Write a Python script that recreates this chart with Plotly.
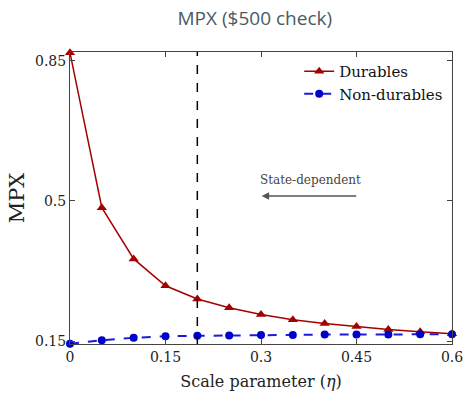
import plotly.graph_objects as go

eta = [0, 0.05, 0.1, 0.15, 0.2, 0.25, 0.3, 0.35, 0.4, 0.45, 0.5, 0.55, 0.6]
durables = [0.870, 0.483, 0.355, 0.288, 0.255, 0.233, 0.216, 0.203, 0.194, 0.186, 0.179, 0.173, 0.168]
nondurables = [0.143, 0.152, 0.158, 0.162, 0.163, 0.164, 0.165, 0.165, 0.166, 0.166, 0.166, 0.167, 0.167]
xticks = [0, 0.15, 0.3, 0.45, 0.6]
xticklabels = ["0", "0.15", "0.3", "0.45", "0.6"]
yticks = [0.15, 0.5, 0.85]
yticklabels = ["0.15", "0.5", "0.85"]
calib_eta = 0.2

serif = "DejaVu Serif"

fig = go.Figure()
fig.add_trace(go.Scatter(x=eta, y=durables, mode="lines+markers", name="Durables",
                         line=dict(color="#a50000", width=1.5),
                         marker=dict(symbol="triangle-up", size=9, color="#a50000"),
                         cliponaxis=False))
fig.add_trace(go.Scatter(x=eta, y=nondurables, mode="lines+markers", name="Non-durables",
                         line=dict(color="#1a1adc", width=2, dash="dash"),
                         marker=dict(symbol="circle", size=8, color="#0000cc"),
                         cliponaxis=False))

fig.add_shape(type="line", xref="x", yref="paper", x0=calib_eta, x1=calib_eta, y0=0, y1=1,
              line=dict(color="black", width=1.5, dash="dash"))

fig.add_annotation(x=0.377, y=0.551, xref="x", yref="y", text="State-dependent",
                   showarrow=False, font=dict(family=serif, size=12, color="#444444"))
fig.add_annotation(x=0.301, y=0.5125, ax=0.452, ay=0.5125, xref="x", yref="y", axref="x", ayref="y",
                   text="", showarrow=True, arrowhead=2, arrowsize=1, arrowwidth=1.5,
                   arrowcolor="#555555", standoff=0)

fig.update_layout(
    width=465, height=394,
    margin=dict(l=70, r=13, t=52, b=50, autoexpand=False),
    paper_bgcolor="white", plot_bgcolor="white",
    title=dict(text="MPX ($500 check)", x=0.548, xanchor="center", y=0.954, yanchor="middle",
               font=dict(family="Open Sans", size=19, color="#4a5a62")),
    font=dict(family=serif, size=14, color="#222222"),
    legend=dict(x=0.99, y=0.99, xanchor="right", yanchor="top", bgcolor="rgba(0,0,0,0)",
                font=dict(family=serif, size=15, color="#111111"), itemwidth=30,
                tracegroupgap=0),
    showlegend=True,
)
fig.update_xaxes(range=[0, 0.6], tickvals=xticks, ticktext=xticklabels, automargin=False,
                 ticks="inside", ticklen=5, mirror="ticks", showline=True, linecolor="#444444",
                 linewidth=1, showgrid=False, zeroline=False,
                 title=dict(text="Scale parameter (<i>η</i>)", standoff=12,
                            font=dict(family=serif, size=16)))
fig.update_yaxes(range=[0.1425, 0.872], tickvals=yticks, ticktext=yticklabels, automargin=False,
                 ticks="inside", ticklen=5, mirror="ticks", showline=True, linecolor="#444444",
                 linewidth=1, showgrid=False, zeroline=False,
                 title=dict(text="MPX", standoff=4, font=dict(family=serif, size=21)))

fig.write_html("out.html", config={"displayModeBar": False},
               post_script="document.body.style.margin='0';")
